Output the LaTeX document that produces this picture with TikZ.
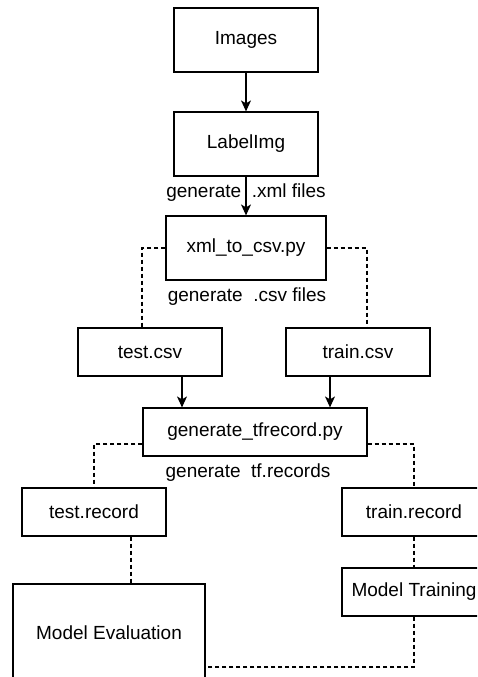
\documentclass[tikz,border=0pt]{standalone}
\usepackage{fontspec}
\setmainfont{Liberation Sans}
\usetikzlibrary{arrows.meta}

\begin{document}
\begin{tikzpicture}[
    x=1pt, y=1pt,
    font=\fontsize{19}{22}\selectfont,
    >={Stealth[length=11pt,width=10pt,inset=3pt]},
    box/.style={
        draw,
        line width=1.2pt,
        minimum width=144pt,
        minimum height=48pt,
        inner sep=0pt,
        align=center
    },
    flow/.style={
        ->,
        line width=1.2pt
    },
    link/.style={
        line width=1.2pt,
        dash pattern=on 4pt off 3pt
    },
    caption/.style={
        inner sep=0pt
    }
]
\useasboundingbox (0,0) rectangle (477,-677);
\clip (0,0) rectangle (477,-677);

% Boxes
\node[box, minimum height=64pt] (images) at (246,-40) {Images};
\node[box, minimum height=64pt] (labelimg) at (246,-144) {LabelImg};
\node[box, minimum width=160pt, minimum height=64pt] (xmltocsv) at (246,-248) {xml\_to\_csv.py};
\node[box] (testcsv) at (150,-352) {test.csv};
\node[box] (traincsv) at (358,-352) {train.csv};
\node[box, minimum width=224pt] (gentf) at (255,-432) {generate\_tfrecord.py};
\node[box] (testrec) at (94,-512) {test.record};
\node[box] (trainrec) at (414,-512) {train.record};
\node[box] (training) at (414,-592) {Model Training};
\node[box, minimum width=192pt, minimum height=98pt] (evaluation) at (109,-633) {Model Evaluation};

% Notes
\node[caption] (csvnote) at (247,-297) {generate\ \ .csv files};
\node[caption] (tfnote) at (248,-473) {generate\ \ tf.records};

% Solid arrows
\draw[flow] (images) -- (labelimg);
\draw[flow] (labelimg) -- node[caption, yshift=3pt] {generate\ \ .xml files} (xmltocsv);
\draw[flow] ([xshift=32pt]testcsv.south) -- ([xshift=32pt]testcsv.south |- gentf.north);
\draw[flow] ([xshift=-28pt]traincsv.south) -- ([xshift=-28pt]traincsv.south |- gentf.north);

% Dashed links
\draw[link] (xmltocsv.west) -| ([xshift=-8pt]testcsv.north);
\draw[link] (xmltocsv.east) -| ([xshift=9pt]traincsv.north);
\draw[link] ([yshift=-12pt]gentf.west) -| (testrec.north);
\draw[link] ([yshift=-12pt]gentf.east) -| (trainrec.north);
\draw[link] ([xshift=37pt]testrec.south) -- ([xshift=37pt]testrec.south |- evaluation.north);
\draw[link] (trainrec) -- (training);
\draw[link] (training.south) |- ([yshift=-34pt]evaluation.east);

\end{tikzpicture}
\end{document}
